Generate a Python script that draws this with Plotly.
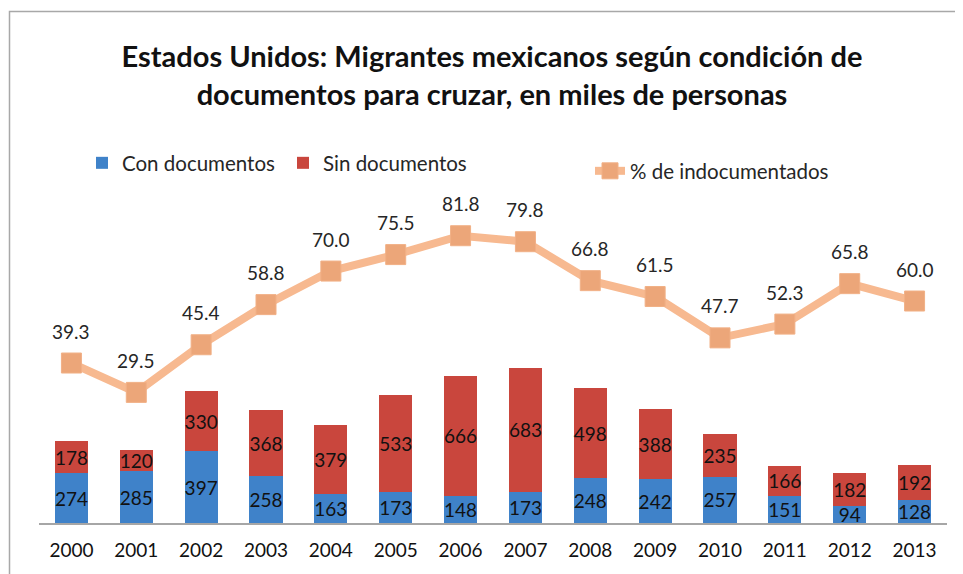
import plotly.graph_objects as go

# data
years        = [2000, 2001, 2002, 2003, 2004, 2005, 2006,
                2007, 2008, 2009, 2010, 2011, 2012, 2013]
conDocs      = [274, 285, 397, 258, 163, 173, 148, 173, 248, 242, 257, 151, 94, 128]
sinDocs      = [178, 120, 330, 368, 379, 533, 666, 683, 498, 388, 235, 166, 182, 192]
pctIndocs    = [39.3, 29.5, 45.4, 58.8, 70.0, 75.5, 81.8, 79.8, 66.8, 61.5, 47.7, 52.3, 65.8, 60.0]

fontFam   = 'Lato'
blue      = '#3f82c9'
red       = '#c9463d'
peach     = '#f7b990'
peachDark = '#eca679'

# the page body adds an 8px offset, so the figure is 8px smaller
pageOff = 8

fig = go.Figure()

fig.add_trace(go.Bar(x=years, y=conDocs, name='Con documentos',
                     marker=dict(color=blue, line=dict(width=0)),
                     text=[str(v) for v in conDocs], textposition='inside',
                     insidetextanchor='middle', textangle=0, constraintext='none',
                     insidetextfont=dict(size=19, color='#111111', family=fontFam),
                     legend='legend'))
fig.add_trace(go.Bar(x=years, y=sinDocs, name='Sin documentos',
                     marker=dict(color=red, line=dict(width=0)),
                     text=[str(v) for v in sinDocs], textposition='inside',
                     insidetextanchor='middle', textangle=0, constraintext='none',
                     insidetextfont=dict(size=19, color='#111111', family=fontFam),
                     legend='legend'))
fig.add_trace(go.Scatter(x=years, y=pctIndocs, name='% de indocumentados',
                         mode='lines+markers', yaxis='y2',
                         line=dict(color=peach, width=8),
                         marker=dict(symbol='square', size=20, color=peachDark,
                                     line=dict(color='#f1b086', width=1)),
                         legend='legend2'))

# labels above the line points
for yr, v in zip(years, pctIndocs):
    fig.add_annotation(x=yr, y=v, xref='x', yref='y2', text=f'{v:.1f}', showarrow=False,
                       yshift=32, font=dict(size=19, color='#262626', family=fontFam))

# chart border (left and top visible in the reference)
fig.add_shape(type='rect', xref='paper', yref='paper',
              x0=(9.5 - 39) / 908, x1=1.1, y0=-0.3, y1=(520 - 8.5) / 380,
              line=dict(color='#a8a8a8', width=1.5), layer='below')

fig.update_layout(
    width=963 - pageOff, height=574 - pageOff,
    margin=dict(l=39 - pageOff, r=16, t=143 - pageOff, b=51),
    paper_bgcolor='white', plot_bgcolor='white',
    font=dict(family=fontFam, size=18, color='#262626'),
    barmode='stack', bargap=0.49,
    title=dict(text='Estados Unidos: Migrantes mexicanos según condición de<br>'
                    'documentos para cruzar, en miles de personas',
               x=(492 - pageOff) / (963 - pageOff), xanchor='center', xref='container',
               y=1 - (67 - pageOff) / (574 - pageOff), yanchor='middle', yref='container',
               font=dict(size=29, color='#111111', family=fontFam, weight='bold')),
    xaxis=dict(range=[1999.5, 2013.5], tickvals=years, ticktext=[str(y) for y in years],
               showline=True, linecolor='#a6a6a6', linewidth=1.5,
               showgrid=False, zeroline=False, ticks='', ticklabelstandoff=9,
               tickfont=dict(size=19, color='#111111')),
    yaxis=dict(range=[0, 2100], visible=False, showgrid=False),
    yaxis2=dict(range=[-14.1, 112.75], overlaying='y', visible=False, showgrid=False),
    legend=dict(orientation='h', x=(82 - 39) / 908, xanchor='left',
                y=(520 - 160) / 380, yanchor='middle', entrywidth=156,
                traceorder='normal',
                font=dict(size=20.5), bgcolor='rgba(0,0,0,0)'),
    legend2=dict(orientation='h', x=(590 - 39) / 908, xanchor='left',
                 y=(520 - 168) / 380, yanchor='middle',
                 font=dict(size=20.5), bgcolor='rgba(0,0,0,0)'),
    showlegend=True,
)

fig.write_html('out.html')
